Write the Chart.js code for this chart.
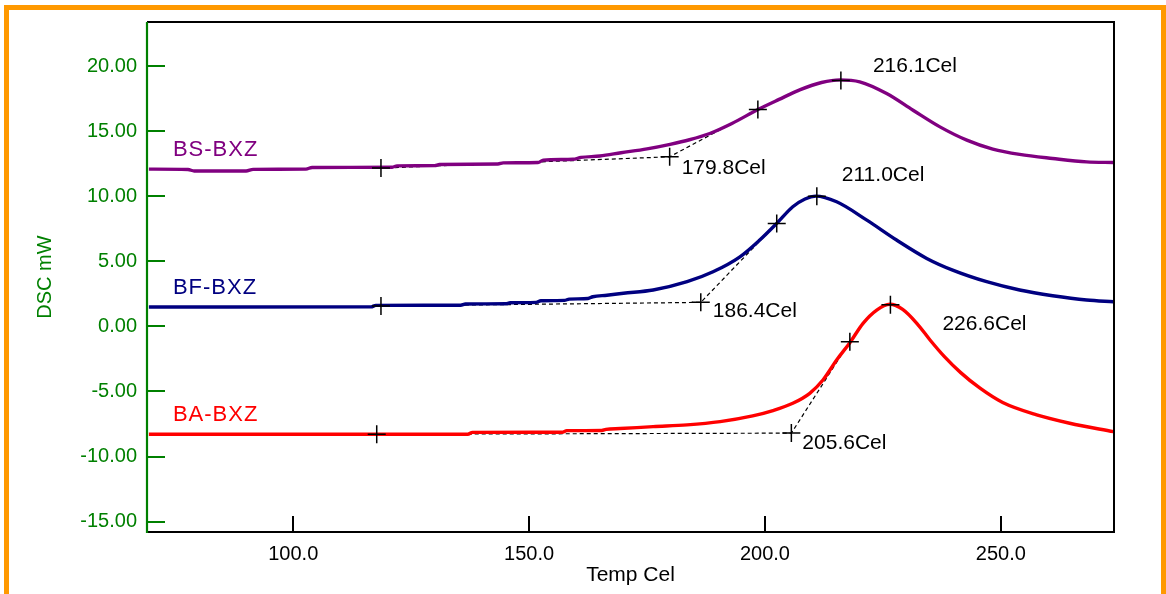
<!DOCTYPE html>
<html><head><meta charset="utf-8"><title>DSC</title>
<script src="https://cdn.jsdelivr.net/npm/chart.js@4.4.1/dist/chart.umd.min.js"></script>
<style>
html,body{margin:0;padding:0;width:1166px;height:594px;overflow:hidden;background:#fff}
#frame{position:absolute;left:4px;top:5px;width:1162px;height:640px;border:5px solid #FF9900;box-sizing:border-box}
#c{position:absolute;left:0;top:0}
</style></head><body>
<div id="frame"></div>
<canvas id="c" width="1166" height="594"></canvas>
<script>
// ---- axis ranges & ticks ----
const tempMin = 69, tempMax = 274;
const dscMin = -15.8, dscMax = 23.4;
const tempStep = 50, dscStep = 5;

// ---- series names / colours ----
const seriesNames = ['BS-BXZ', 'BF-BXZ', 'BA-BXZ'];
const seriesColors = ['#800080', '#000080', '#FF0000'];

// ---- BS-BXZ curve ----
const bsTemp = [69.4, 77.7, 79, 90, 91.5, 102.7, 104, 121, 122, 130, 131, 143.4, 144.5, 151.9, 153, 159.3, 161, 165, 169.5, 175, 179.9, 184, 188.3, 193, 198.5, 203, 207.5, 212, 215.9, 220.1, 225.8, 231.4, 237.1, 242.8, 248.3, 254, 261, 268.2, 273.9];
const bsDsc  = [12.09, 12.06, 11.95, 11.95, 12.07, 12.09, 12.22, 12.24, 12.34, 12.36, 12.45, 12.48, 12.57, 12.6, 12.78, 12.85, 12.99, 13.1, 13.35, 13.65, 14.0, 14.35, 14.83, 15.6, 16.67, 17.45, 18.2, 18.75, 18.95, 18.8, 17.9, 16.62, 15.34, 14.32, 13.63, 13.22, 12.91, 12.65, 12.6];

// ---- BF-BXZ curve ----
const bfTemp = [69.4, 116.5, 117.5, 135.5, 136.5, 145, 146, 151.5, 152.5, 157.5, 158.5, 162.5, 163.5, 166.5, 170, 176.3, 183.5, 189, 194.7, 198.9, 202.5, 205.9, 208.5, 210.8, 215.2, 221.6, 227.9, 234.3, 239.8, 247, 254, 261, 268.2, 273.9];
const bfDsc  = [1.49, 1.5, 1.62, 1.63, 1.72, 1.74, 1.82, 1.85, 1.97, 2.0, 2.1, 2.15, 2.28, 2.4, 2.55, 2.8, 3.44, 4.2, 5.35, 6.64, 7.92, 9.2, 9.8, 10.02, 9.58, 8.17, 6.64, 5.23, 4.33, 3.44, 2.8, 2.36, 2.03, 1.9];

// ---- BA-BXZ curve ----
const baTemp = [69.4, 137, 138, 157, 158, 165.4, 166.3, 169.3, 176.3, 183.5, 190.5, 197.4, 201.7, 205.9, 209.5, 212.3, 215.2, 218, 220.8, 223.7, 226.5, 229.2, 232.2, 235, 238, 241.5, 245.6, 250.4, 257.6, 264.6, 273.9];
const baDsc  = [-8.29, -8.29, -8.14, -8.13, -8.01, -8.0, -7.91, -7.85, -7.7, -7.57, -7.32, -6.88, -6.47, -5.91, -5.14, -4.12, -2.58, -1.25, 0.24, 1.26, 1.7, 1.31, 0.24, -1.04, -2.3, -3.55, -4.75, -5.85, -6.8, -7.44, -8.09];

// ---- analysis marks: baseline start, onset, inflection, peak ----
const bsMarkTemp = [118.6, 179.8, 198.5, 216.1];
const bsMarkDsc  = [12.17, 13.04, 16.67, 18.9];
const bfMarkTemp = [118.6, 186.4, 202.5, 211.0];
const bfMarkDsc  = [1.57, 1.85, 7.92, 10.0];
const baMarkTemp = [117.7, 205.6, 218.0, 226.6];
const baMarkDsc  = [-8.29, -8.2, -1.17, 1.66];

const curveTemps = [bsTemp, bfTemp, baTemp];
const curveDscs = [bsDsc, bfDsc, baDsc];
const markTemps = [bsMarkTemp, bfMarkTemp, baMarkTemp];
const markDscs = [bsMarkDsc, bfMarkDsc, baMarkDsc];

const toPts = (xs, ys) => xs.map((v, i) => ({x: v, y: ys[i]}));

const FONT = "'Liberation Sans', Arial, Helvetica, sans-serif";
const GREEN = '#008000';

const datasets = [];
for (let s = 0; s < 3; s++) {
  // markers
  datasets.push({
    data: toPts(markTemps[s], markDscs[s]),
    showLine: false, pointStyle: 'cross', pointRadius: 9, pointBorderWidth: 1.5,
    pointBorderColor: '#000', pointBackgroundColor: '#000', order: 0
  });
  // curve
  datasets.push({
    data: toPts(curveTemps[s], curveDscs[s]),
    showLine: true, borderColor: seriesColors[s], borderWidth: 3.4, pointRadius: 0,
    cubicInterpolationMode: 'monotone', order: 1
  });
  // baseline + tangent (dashed)
  datasets.push({
    data: toPts(markTemps[s].slice(0, 3), markDscs[s].slice(0, 3)),
    showLine: true, borderColor: '#000', borderWidth: 1.2, borderDash: [4, 3],
    pointRadius: 0, tension: 0, order: 2
  });
}

// pixel offsets for annotation text (relative to their mark)
const peakLabelOffset = [[32, -14], [25, -21], [52, 19]];
const onsetLabelOffset = [[12, 11], [12, 9], [11, 10]];
const seriesLabelOffset = [24, -19];

const decor = {
  id: 'decor',
  afterDraw(chart) {
    const {ctx, chartArea: a, scales: {x, y}} = chart;
    ctx.save();
    // frame
    ctx.strokeStyle = '#000'; ctx.lineWidth = 2;
    ctx.beginPath();
    ctx.moveTo(a.left, a.top); ctx.lineTo(a.right, a.top);
    ctx.lineTo(a.right, a.bottom); ctx.lineTo(a.left, a.bottom);
    ctx.stroke();
    ctx.strokeStyle = GREEN; ctx.lineWidth = 2.2;
    ctx.beginPath(); ctx.moveTo(a.left, a.top); ctx.lineTo(a.left, a.bottom + 1); ctx.stroke();
    // y ticks inward
    ctx.lineWidth = 2;
    y.ticks.forEach(t => {
      const py = Math.round(y.getPixelForValue(t.value));
      ctx.beginPath(); ctx.moveTo(a.left, py); ctx.lineTo(a.left + 18, py); ctx.stroke();
    });
    // x ticks inward
    ctx.strokeStyle = '#000';
    x.ticks.forEach(t => {
      const px = Math.round(x.getPixelForValue(t.value));
      ctx.beginPath(); ctx.moveTo(px, a.bottom); ctx.lineTo(px, a.bottom - 16); ctx.stroke();
    });
    // series labels
    ctx.textBaseline = 'middle'; ctx.textAlign = 'left';
    ctx.font = '22px ' + FONT;
    if ('letterSpacing' in ctx) ctx.letterSpacing = '1px';
    for (let s = 0; s < 3; s++) {
      const px = x.getPixelForValue(curveTemps[s][0]);
      const py = y.getPixelForValue(curveDscs[s][0]);
      ctx.fillStyle = seriesColors[s];
      ctx.fillText(seriesNames[s], px + seriesLabelOffset[0], py + seriesLabelOffset[1]);
    }
    if ('letterSpacing' in ctx) ctx.letterSpacing = '0px';
    // temperature annotations
    ctx.fillStyle = '#000';
    ctx.font = '21px ' + FONT;
    for (let s = 0; s < 3; s++) {
      const on = 1, pk = 3;
      let px = x.getPixelForValue(markTemps[s][on]), py = y.getPixelForValue(markDscs[s][on]);
      ctx.fillText(markTemps[s][on].toFixed(1) + 'Cel', px + onsetLabelOffset[s][0], py + onsetLabelOffset[s][1]);
      px = x.getPixelForValue(markTemps[s][pk]); py = y.getPixelForValue(markDscs[s][pk]);
      ctx.fillText(markTemps[s][pk].toFixed(1) + 'Cel', px + peakLabelOffset[s][0], py + peakLabelOffset[s][1]);
    }
    ctx.restore();
  }
};

new Chart(document.getElementById('c'), {
  type: 'scatter',
  data: {datasets},
  plugins: [decor],
  options: {
    responsive: false, animation: false, devicePixelRatio: 1,
    layout: {padding: {top: 22, right: 52, left: 0, bottom: 0}},
    plugins: {legend: {display: false}, tooltip: {enabled: false}},
    scales: {
      x: {
        type: 'linear', min: tempMin, max: tempMax,
        grid: {display: false, drawTicks: false}, border: {display: false},
        ticks: {stepSize: tempStep, includeBounds: false, color: '#000', padding: 10,
                font: {family: FONT, size: 20, lineHeight: 1.2},
                callback: v => Number(v).toFixed(1)},
        title: {display: true, text: 'Temp Cel', color: '#000',
                font: {family: FONT, size: 21, lineHeight: 1.2}, padding: {top: 0, bottom: 6}},
        afterFit: sc => { sc.height = 62; }
      },
      y: {
        type: 'linear', min: dscMin, max: dscMax,
        grid: {display: false, drawTicks: false}, border: {display: false},
        ticks: {stepSize: dscStep, includeBounds: false, color: GREEN, padding: 10,
                font: {family: FONT, size: 20, lineHeight: 1.2},
                callback: v => Number(v).toFixed(2)},
        title: {display: true, text: 'DSC mW', color: GREEN,
                font: {family: FONT, size: 20, lineHeight: 1.2}, padding: {top: 33, bottom: 0}},
        afterFit: sc => { sc.width = 147; }
      }
    }
  }
});
</script>
</body></html>
